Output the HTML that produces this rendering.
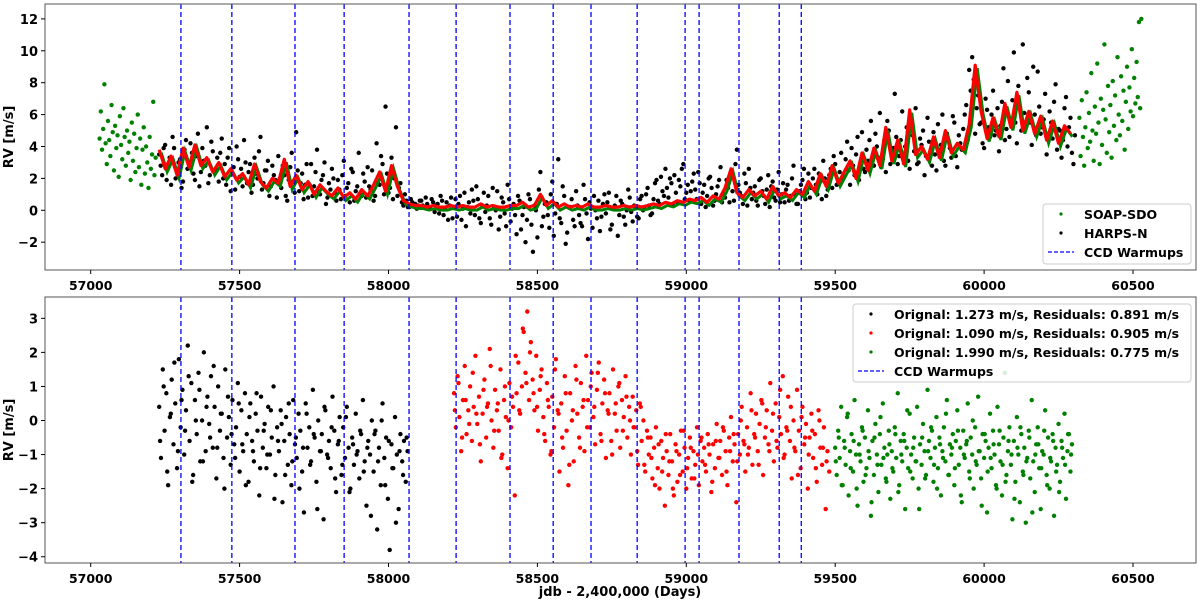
<!DOCTYPE html>
<html><head><meta charset="utf-8"><style>
body{margin:0;background:#fff;}
svg{display:block;font-family:"DejaVu Sans","Liberation Sans",sans-serif;font-weight:bold;}
</style></head><body>
<svg id="c" width="1200" height="601"></svg>
<script>
const warmups=[57303,57474,57686,57851,58069,58227,58408,58553,58680,58835,58996,59043,59177,59312,59386];
const xTicks=[57000,57500,58000,58500,59000,59500,60000,60500];
const topYTicks=[-2,0,2,4,6,8,10,12];
const botYTicks=[-4,-3,-2,-1,0,1,2,3];
const harpsStart=57230, harpsStep=10;
const harpsVals=[3.5,2.2,4.1,2.8,1.6,3.9,2.5,3.2,1.8,4.4,2.9,3.6,1.9,4.8,2.4,3.1,5.2,2.2,3.7,2.6,1.8,4.5,2.9,3.3,1.2,2.7,4.0,2.1,1.5,3.0,2.4,1.1,3.3,2.0,4.6,1.7,2.5,0.9,2.8,1.9,3.4,1.4,2.2,0.6,2.7,1.8,4.9,1.2,2.3,1.6,0.8,2.9,1.5,3.8,1.0,2.2,0.4,1.7,2.6,1.1,1.9,0.7,3.1,1.4,0.5,2.4,1.2,3.6,0.9,1.8,2.7,1.3,0.6,4.2,1.6,2.9,6.5,1.1,3.3,2.0,0.9,1.7,0.3,0.6,0.2,0.5,0.4,0.3,0.6,0.2,0.4,0.1,0.5,0.3,-0.2,0.6,0.1,-0.6,0.8,0.2,-0.4,0.9,0.1,-1.0,0.5,1.3,-0.3,0.7,-0.8,1.1,0.3,-0.5,1.4,0.0,-1.2,0.8,-0.2,1.6,-0.7,0.4,-1.5,0.6,-0.3,-2.0,1.0,-0.9,0.3,-1.7,2.4,-0.4,0.5,-1.1,1.8,-0.2,3.2,-0.8,0.9,-1.4,0.2,-0.6,1.2,-0.3,-1.0,0.7,-1.8,0.1,0.9,-0.5,-1.3,0.4,-0.2,1.1,-0.9,0.3,-1.6,0.6,-0.4,0.0,0.8,-0.7,0.2,-0.5,0.9,0.1,1.4,-0.3,0.7,1.9,0.4,1.2,2.6,0.8,1.7,2.2,0.5,1.5,2.9,1.1,0.6,1.8,1.3,2.4,0.4,1.6,0.9,2.1,0.3,1.0,1.9,0.5,0.8,1.4,2.2,0.6,3.8,1.1,0.4,1.7,2.6,0.7,1.5,0.3,2.0,0.9,1.3,0.2,1.8,0.6,2.4,1.0,0.5,1.6,0.9,2.8,0.4,1.2,1.9,0.7,2.3,1.4,2.6,1.0,1.8,3.1,0.9,2.2,1.4,2.9,1.7,3.6,2.1,4.3,1.6,2.8,3.5,1.9,4.9,2.4,3.1,5.6,2.8,4.0,6.1,3.2,2.4,5.0,3.7,7.3,2.9,4.4,3.3,5.2,2.6,4.7,6.4,3.0,4.1,2.2,5.8,3.6,4.9,2.5,3.8,6.0,2.8,4.4,3.3,5.5,2.7,4.2,5.1,6.6,8.8,9.6,4.8,7.2,5.5,3.9,6.3,4.6,7.5,5.0,3.7,6.8,4.4,8.1,5.6,9.9,4.2,6.5,10.4,5.3,7.4,4.1,6.0,8.7,4.8,5.7,3.5,6.2,4.5,7.9,5.1,3.3,6.4,4.0,5.8,2.9];
const harps2Start=57235, harps2Step=10;
const harps2Vals=[2.8,3.9,1.9,3.3,4.6,2.0,3.0,1.4,3.8,2.6,4.2,2.3,3.4,1.5,3.9,2.8,1.7,4.3,2.5,3.3,3.6,2.0,1.6,3.9,2.4,1.3,3.2,2.6,4.4,1.7,2.9,1.6,2.3,3.7,1.3,2.5,3.1,1.5,2.2,0.8,2.0,2.8,0.9,1.9,3.6,1.1,2.5,1.7,0.7,2.9,1.6,0.9,2.4,1.2,1.9,3.0,0.8,1.3,2.0,0.6,1.3,2.2,0.9,1.7,2.6,0.6,1.5,1.0,2.3,0.8,1.5,2.5,0.9,1.7,3.4,1.0,2.3,1.4,0.7,5.2,1.4,0.5,1.0,0.2,0.7,0.4,0.1,0.6,0.3,0.8,0.2,0.7,-0.1,0.4,0.9,-0.3,0.5,0.3,-0.5,0.7,0.4,-0.6,1.1,0.2,-0.2,0.6,1.5,-0.5,0.3,-0.1,0.9,-0.9,0.2,1.2,-0.4,0.5,-1.0,0.7,0.1,-0.3,0.9,-1.2,0.2,-0.6,0.7,-2.6,0.0,1.3,-1.0,0.4,-0.3,1.0,-1.6,0.4,-0.5,1.5,-2.1,0.2,0.7,-1.0,0.3,-0.8,1.6,-0.2,0.5,-1.1,0.0,0.6,-0.4,1.0,0.5,-1.2,0.1,0.9,-0.3,0.4,-0.9,1.3,-0.1,0.3,-0.4,0.7,0.0,1.0,0.3,-0.2,1.7,0.6,2.1,0.9,1.4,2.0,0.3,1.1,1.9,2.6,0.7,1.6,1.2,2.3,0.7,1.7,1.1,0.2,2.0,1.4,0.6,1.5,2.7,1.0,1.9,0.5,1.2,2.9,1.6,0.9,2.3,0.3,1.4,1.1,0.6,1.9,1.2,0.4,2.2,1.5,0.8,1.3,0.5,1.7,1.3,0.6,2.0,1.0,0.4,1.6,2.6,1.1,0.8,2.0,1.6,2.3,0.7,2.0,1.3,2.6,3.4,1.6,2.4,2.0,3.2,2.5,3.9,2.2,4.6,3.0,2.6,3.8,4.4,2.9,4.8,3.3,2.7,4.4,5.6,2.9,3.9,4.6,3.4,6.2,4.0,3.1,5.6,3.7,2.9,4.5,5.0,3.4,4.3,2.8,3.5,5.4,4.1,3.1,4.8,3.9,5.9,3.4,4.7,3.8,6.0,4.4,7.5,8.2,6.4,5.4,4.2,7.0,5.2,6.0,4.7,6.4,5.3,8.9,5.1,4.6,6.9,5.5,7.8,5.0,6.1,8.3,5.5,9.0,4.7,6.5,5.2,7.3,4.4,5.5,6.8,3.8,5.0,4.4,7.1,5.2,3.6,4.7];
const modelStart=57230, modelStep=20;
const modelVals=[3.8,2.6,3.4,2.2,3.9,2.7,4.1,2.8,3.3,2.4,3.0,2.1,2.6,1.9,2.3,1.6,2.9,1.8,1.4,2.0,1.7,3.2,1.5,2.2,1.3,1.8,1.0,1.6,1.2,0.9,1.4,0.8,1.1,0.7,1.3,0.9,1.6,2.4,1.2,2.8,1.5,0.6,0.4,0.3,0.3,0.2,0.3,0.2,0.2,0.3,0.2,0.3,0.2,0.2,0.4,0.2,0.3,0.2,0.2,0.3,0.3,0.5,0.2,0.3,1.0,0.3,0.6,0.2,0.4,0.2,0.3,0.2,0.4,0.2,0.2,0.3,0.2,0.2,0.3,0.2,0.3,0.2,0.3,0.4,0.3,0.5,0.4,0.6,0.5,0.7,0.6,0.8,0.5,0.9,0.7,1.4,2.6,1.1,0.8,1.3,0.9,1.2,0.7,1.5,0.9,1.1,0.8,1.3,1.0,1.8,1.2,2.3,1.5,2.8,1.7,2.4,3.1,2.0,3.6,2.5,3.9,2.8,5.2,3.1,4.4,2.9,6.3,3.5,4.0,3.2,4.6,3.3,5.0,3.6,4.2,3.8,5.4,9.1,6.2,4.5,5.8,4.6,6.7,5.2,7.4,5.0,6.2,4.8,5.9,4.4,5.6,4.2,5.3,4.8];
const soapLeftStart=57030, soapRightStart=60320, soapStep=4;
const soapLeftVals=[4.5,6.2,3.8,5.1,7.9,4.2,2.9,5.6,4.4,3.4,6.6,4.9,2.5,5.3,3.9,4.7,2.1,5.9,4.1,3.2,6.4,4.6,2.8,5.0,3.6,4.3,1.9,5.5,3.1,4.8,2.4,3.9,6.0,2.7,4.5,1.6,3.8,5.2,2.3,4.0,3.0,1.4,4.6,2.6,3.5,6.8,2.2,3.3];
const soapRightVals=[5.8,3.4,6.9,4.6,2.8,5.2,7.4,3.9,6.1,4.3,8.6,5.0,3.1,6.5,4.8,9.2,5.5,2.9,7.0,4.1,6.3,10.4,5.7,3.6,7.8,4.9,6.6,3.3,8.1,5.3,7.2,4.4,9.6,6.0,4.7,8.4,5.6,7.5,3.8,6.8,9.0,5.1,7.7,6.2,10.1,5.9,8.3,6.7,9.3,7.1,11.8,6.4,12.0];
const resBlackStart=57230, resBlackStep=6;
const resBlackVals=[0.4,-1.1,1.5,-0.3,0.8,-1.9,0.1,1.2,-0.7,0.5,-1.4,1.8,-0.2,0.9,-1.0,0.3,2.2,-0.6,1.1,-1.6,0.6,-0.4,1.4,-1.2,0.0,2.0,-0.9,0.7,-0.1,1.3,-0.8,0.4,-1.7,1.0,-0.3,0.2,-1.1,1.5,-0.5,0.1,-1.3,0.6,-0.7,-0.2,1.1,-1.5,0.3,-0.9,0.8,-0.4,-1.8,0.5,-0.6,-1.2,0.2,-0.3,-2.2,0.7,-0.8,-0.1,-1.4,0.4,-1.0,-0.5,1.0,-1.6,-0.2,-0.9,0.3,-2.4,-0.6,0.1,-1.3,-0.4,-1.9,0.6,-0.7,-1.1,0.2,-0.3,-1.5,-2.7,0.5,-0.8,-0.2,-1.2,0.9,-0.5,-1.8,0.0,-0.9,-0.4,-2.9,0.3,-1.0,-0.6,-1.4,0.7,-0.3,-2.1,-0.7,0.1,-1.6,-0.2,-1.1,0.4,-0.8,-2.0,-0.5,-1.3,0.2,-0.9,-1.7,-0.4,0.6,-1.2,-2.5,-0.6,-1.0,0.0,-1.5,-0.3,-3.2,-0.8,-1.9,0.5,-1.1,-0.5,-2.3,-3.8,-0.7,-1.4,0.1,-1.0,-2.6,-0.4,-1.2,-0.6,-1.8,-0.9];
const resBlack2Start=57233, resBlack2Step=12;
const resBlack2Vals=[-0.6,1.0,-1.5,0.2,1.7,-0.9,0.6,-0.3,1.3,-1.8,0.0,0.9,-1.2,0.4,-0.5,1.6,-0.8,0.2,-2.0,0.7,-0.4,-1.1,0.5,-0.7,-1.9,0.1,-0.9,0.8,-1.4,-0.3,-1.0,0.3,-2.3,-0.6,-0.1,-1.6,0.5,-1.2,-0.5,-2.0,-0.8,0.2,-1.3,-0.4,-2.6,-0.9,0.4,-1.1,-0.2,-1.7,-0.6,-1.3,0.1,-2.1,-0.7,-1.0,-0.3,-1.5,-0.8,-2.8,-0.4,-1.2,0.0,-1.9,-0.6,-1.4,-3.0,-0.9,-1.6,-0.5];
const resRedStart=58220, resRedStep=6;
const resRedVals=[0.8,-0.2,1.3,0.1,-0.9,0.6,1.6,-0.4,0.3,1.0,-0.6,0.4,1.9,-0.1,0.7,-1.2,0.2,1.2,-0.5,0.5,2.1,0.0,-0.8,0.9,0.3,-0.3,1.5,-1.0,0.6,0.1,-1.4,1.1,-0.2,0.4,-2.2,0.8,1.7,0.2,1.0,2.6,1.4,3.2,0.6,2.3,1.2,0.3,1.9,-0.3,0.9,1.5,0.1,-0.6,1.1,0.4,-1.0,0.7,-0.2,1.8,0.3,-1.5,0.5,-0.8,1.3,-0.3,-1.9,0.8,0.0,-1.2,1.6,0.2,-0.5,1.1,0.4,-0.9,1.9,0.6,-0.2,1.4,0.1,-0.7,0.9,1.7,-0.4,0.5,1.2,-1.1,0.3,0.8,-0.6,1.5,0.2,-0.3,1.0,-0.8,0.6,0.1,1.3,-0.5,0.4,-1.0,0.7,-0.2,0.3,-1.3,0.5,-0.6,0.0,-1.5,-0.3,-1.0,-0.5,-1.7,-0.8,-0.2,-1.4,-2.0,-0.6,-1.1,-2.5,-0.9,-1.6,-0.4,-1.2,-2.2,-0.7,-1.8,-1.0,-0.3,-1.5,-0.8,-2.0,-1.1,-0.5,-1.7,-0.9,-1.3,-0.2,-1.9,-0.6,-1.2,-0.8,-1.5,-0.4,-1.0,-2.1,-0.7,-1.4,-0.1,-1.1,-0.6,-1.6,-0.3,-0.9,-1.9,-0.5,0.1,-1.2,-0.7,-2.4,-0.4,-1.0,0.4,-0.6,-1.5,-0.2,-0.8,0.8,-1.3,-0.4,0.2,-0.9,-0.1,0.6,-1.6,-0.5,0.3,-0.7,1.1,-0.3,-1.2,0.5,-0.8,0.1,-0.4,1.3,-1.0,-0.2,0.7,-0.6,-1.7,0.0,-0.9,0.9,-0.3,-1.4,0.4,-0.7,-0.1,-2.0,-0.5,0.2,-1.1,-0.4,-1.8,0.3,-0.8,-1.3,-0.2,-2.6,-0.9,-1.5];
const resRed2Start=58223, resRed2Step=12;
const resRed2Vals=[0.3,1.1,-0.5,0.6,-0.1,1.4,0.2,-0.7,0.9,0.4,1.6,-0.3,0.5,-1.1,1.0,0.0,0.7,1.9,0.3,2.7,1.1,2.0,0.8,0.4,1.3,-0.4,0.6,-0.9,1.5,0.2,-0.5,0.8,-1.3,0.3,1.2,-0.8,0.6,-0.2,1.0,0.4,1.4,-0.6,0.8,0.2,-1.0,0.5,1.1,-0.3,0.7,0.0,-0.2,-0.9,0.4,-1.3,-0.5,-1.1,-1.9,-0.7,-1.5,-0.4,-1.2,-2.0,-0.9,-1.6,-0.3,-1.4,-0.8,-1.7,-1.0,-0.5,-1.3,-0.7,-1.8,-0.6,-1.1,-0.2,-1.5,-0.9,-0.4,-1.2,0.0,-0.7,-1.0,0.3,-0.5,-1.3,0.5,-0.2,-0.9,0.2,-0.6,0.9,-1.1,-0.3,0.4,-0.8,-1.6,0.1,-0.5,-1.0,-0.3,-1.4,0.0,-0.8,-1.2];
const resGreenStart=59500, resGreenStep=5;
const resGreenVals=[-0.8,-1.6,-0.3,-1.1,0.4,-1.9,-0.6,-1.3,0.1,-2.2,-0.9,-0.4,-1.5,0.6,-1.0,-2.5,-0.7,-1.2,-0.2,-1.8,-0.5,-1.4,0.3,-1.1,-2.8,-0.6,-1.6,-0.1,-1.0,-2.1,-0.4,-1.3,0.5,-0.8,-1.7,-1.0,-0.3,-2.3,-0.9,-1.5,-0.2,-1.1,0.8,-1.9,-0.6,-1.2,-0.4,-2.6,-0.8,-1.4,0.2,-1.0,-1.7,-0.5,-1.2,0.4,-2.0,-0.7,-1.3,-0.1,-0.9,-1.6,0.9,-0.6,-1.1,-0.3,-1.8,-0.8,0.1,-1.4,-0.5,-2.2,-0.9,-0.2,-1.2,0.6,-1.6,-0.7,-1.0,-0.4,-1.9,-0.6,0.3,-1.3,-0.8,-2.4,-0.3,-1.1,-0.7,0.5,-1.5,-0.5,-1.0,-2.0,-0.2,-1.3,0.7,-0.9,-1.7,-0.4,-1.1,-0.6,-2.7,-0.8,0.2,-1.4,-0.3,-1.0,-1.9,0.4,-0.7,-1.2,-2.2,-0.5,1.4,-1.6,-0.9,-0.2,-1.3,-2.9,-0.6,-1.8,0.1,-1.0,-2.4,-0.4,-1.5,-0.8,-3.0,-1.1,-0.3,-1.7,0.6,-1.2,-2.1,-0.7,-0.2,-1.4,-2.6,-0.9,-1.0,0.3,-1.6,-0.5,-2.0,-1.2,-0.4,-2.8,-0.8,-1.3,-0.1,-1.8,-0.6,-1.1,0.2,-2.3,-0.9,-0.4,-1.5,-0.7];
const resGreen2Start=59502, resGreen2Step=10;
const resGreen2Vals=[-1.2,-0.5,-1.9,-0.8,0.2,-1.4,-0.6,-2.0,-1.0,-0.3,-1.6,-0.9,-2.4,-0.5,-1.3,0.1,-1.1,-1.8,-0.7,-1.4,-0.4,-2.1,-1.0,-0.6,0.3,-1.5,-0.8,-1.2,-2.6,-0.5,-1.7,-0.9,-0.2,-1.3,-2.0,-0.7,-1.1,0.2,-1.6,-0.8,-1.4,-0.3,-2.2,-1.0,-0.6,-1.7,0.0,-1.2,-0.9,-2.5,-0.4,-1.5,-1.1,-0.7,-2.0,-0.3,-1.3,-1.8,-0.6,-1.0,-2.3,-0.8,-0.2,-1.6,-1.2,-0.5,-2.7,-1.0,-0.7,-1.4,-0.3,-1.9,-1.1,-0.6,-1.5,-2.1,-0.8,-1.3,-0.4,-1.0];

const NS='http://www.w3.org/2000/svg';
const svg=document.getElementById('c');
function mk(tag,attrs,parent){const e=document.createElementNS(NS,tag);for(const k in attrs)e.setAttribute(k,attrs[k]);(parent||svg).appendChild(e);return e;}
const L=45,R=1196;
const xS=d=>90.7+(d-57000)*0.2978;
const yTop=v=>210.3-v*15.95;
const yBot=v=>420.5-v*34.06;
const panels=[{t:4,b:270,y:yTop,ticks:topYTicks,name:'top'},{t:297,b:563,y:yBot,ticks:botYTicks,name:'bottom'}];

function dots(g,start,step,vals,yf,color,name){
  vals.forEach((v,i)=>{const c=mk('circle',{cx:xS(start+i*step),cy:yf(v),r:2.2,fill:color},g);
    
    });
}
panels.forEach(p=>{
  const g=mk('g',{});
  
  
  mk('clipPath',{id:'cl'+p.name},g).appendChild(document.createElementNS(NS,'rect'));
  const cr=g.querySelector('clipPath rect');cr.setAttribute('x',L);cr.setAttribute('y',p.t);cr.setAttribute('width',R-L);cr.setAttribute('height',p.b-p.t);
  const data=mk('g',{'clip-path':'url(#cl'+p.name+')'},g);
  if(p.name==='top'){
    dots(data,soapLeftStart,soapStep,soapLeftVals,p.y,'#008000','soap-sdo-point');
    dots(data,soapRightStart,soapStep,soapRightVals,p.y,'#008000','soap-sdo-point');
    dots(data,harpsStart,harpsStep,harpsVals,p.y,'#000','harps-n-point');
    dots(data,harps2Start,harps2Step,harps2Vals,p.y,'#000','harps-n-point');
    const pts=modelVals.map((v,i)=>xS(modelStart+i*modelStep).toFixed(1)+','+p.y(v).toFixed(1)).join(' ');
    const gl=mk('polyline',{points:pts,fill:'none',stroke:'#008000','stroke-width':3,transform:'translate(2,3)'},data);
    
    
    const pl=mk('polyline',{points:pts,fill:'none',stroke:'#ff0000','stroke-width':3.2,'stroke-linejoin':'round'},data);
    
    
  } else {
    dots(data,resBlackStart,resBlackStep,resBlackVals,p.y,'#000','residual-black-point');
    dots(data,resBlack2Start,resBlack2Step,resBlack2Vals,p.y,'#000','residual-black-point');
    dots(data,resRedStart,resRedStep,resRedVals,p.y,'#ff0000','residual-red-point');
    dots(data,resRed2Start,resRed2Step,resRed2Vals,p.y,'#ff0000','residual-red-point');
    dots(data,resGreenStart,resGreenStep,resGreenVals,p.y,'#008000','residual-green-point');
    dots(data,resGreen2Start,resGreen2Step,resGreen2Vals,p.y,'#008000','residual-green-point');
  }
  warmups.forEach(w=>{const l=mk('line',{x1:xS(w),x2:xS(w),y1:p.t,y2:p.b,stroke:'#0000ff','stroke-width':1.3,'stroke-dasharray':'5,3'},g);
    
    });
  const fr=mk('rect',{x:L,y:p.t,width:R-L,height:p.b-p.t,fill:'none',stroke:'#555','stroke-width':1},g);
  
  
  p.ticks.forEach(t=>{const y=p.y(t);mk('line',{x1:L-4,x2:L,y1:y,y2:y,stroke:'#000'},g);
    const tx=mk('text',{x:L-7,y:y+5,'text-anchor':'end','font-size':13},g);tx.textContent=(t<0?'\u2212'+(-t):t);
    
    });
  xTicks.forEach(t=>{const x=xS(t);mk('line',{x1:x,x2:x,y1:p.b,y2:p.b+4,stroke:'#000'},g);
    const tx=mk('text',{x:x,y:p.b+20,'text-anchor':'middle','font-size':12.5},g);tx.textContent=t;
    
    });
  const yl=mk('text',{x:0,y:0,'text-anchor':'middle','font-size':13,transform:'translate(13,'+((p.t+p.b)/2)+') rotate(-90)'},g);
  yl.textContent='RV [m/s]';
  
  
});
const xt=mk('text',{x:620,y:596,'text-anchor':'middle','font-size':13});xt.textContent='jdb - 2,400,000 (Days)';



function legend(x,y,w,h,items,tx,mx,name){
  const g=mk('g',{});
  
  
  mk('rect',{x:x,y:y,width:w,height:h,rx:3,fill:'#fff','fill-opacity':0.85,stroke:'#ccc'},g);
  items.forEach((it,i)=>{const cy=y+10+i*19;
    if(it.c==='line'){mk('line',{x1:mx-13,x2:mx+13,y1:cy,y2:cy,stroke:'#0000ff','stroke-width':1.3,'stroke-dasharray':'4,2'},g);}
    else mk('circle',{cx:mx,cy:cy,r:1.6,fill:it.c},g);
    const t=mk('text',{x:tx,y:cy+5,'font-size':12.5},g);t.textContent=it.t;
    
    });
}
legend(1043,204,148,60,[{c:'#008000',t:'SOAP-SDO'},{c:'#000',t:'HARPS-N'},{c:'line',t:'CCD Warmups'}],1084,1061,'top-legend');
legend(853,304,338,78,[{c:'#000',t:'Orignal: 1.273 m/s, Residuals: 0.891 m/s'},{c:'#ff0000',t:'Orignal: 1.090 m/s, Residuals: 0.905 m/s'},{c:'#008000',t:'Orignal: 1.990 m/s, Residuals: 0.775 m/s'},{c:'line',t:'CCD Warmups'}],894,871,'bottom-legend');
</script>
</body></html>
